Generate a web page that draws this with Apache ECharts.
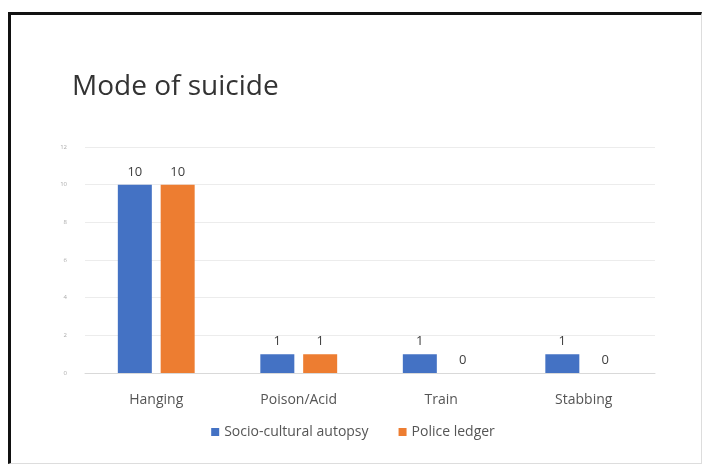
<!DOCTYPE html>
<html>
<head>
<meta charset="utf-8">
<script src="https://cdn.jsdelivr.net/npm/echarts@6/dist/echarts.min.js"></script>
<style>
  html, body { margin: 0; padding: 0; background: #fff; }
  #frame {
    position: absolute; left: 8px; top: 12px; width: 690px; height: 448px;
    border-top: 3px solid #111; border-left: 3px solid #111;
    border-right: 1px solid #ddd; border-bottom: 1px solid #ddd;
  }
  #chart { position: absolute; left: 0; top: 0; width: 706px; height: 468px; }
</style>
</head>
<body>
<div id="frame"></div>
<div id="chart"></div>
<script>
var myChart = echarts.init(document.getElementById('chart'));

var modes = ['Hanging', 'Poison/Acid', 'Train', 'Stabbing'];
var autopsy = [10, 1, 1, 1];
var ledger = [10, 1, 0, 0];

var labelStyle = {
    show: true,
    position: 'top',
    distance: 6,
    color: '#404040',
    fontSize: 13,
    fontFamily: 'Open Sans'
};

option = {
    backgroundColor: 'transparent',
    textStyle: { fontFamily: 'Open Sans' },
    title: {
        text: 'Mode of suicide',
        left: 67,
        top: 68,
        textStyle: {
            fontSize: 28,
            fontWeight: 'normal',
            color: '#333',
            fontFamily: 'Open Sans'
        }
    },
    grid: {
        left: 85,
        right: 51,
        top: 147,
        bottom: 95
    },
    legend: {
        bottom: 24,
        left: 'center',
        itemWidth: 8,
        itemHeight: 8,
        itemGap: 30,
        icon: 'rect',
        textStyle: { color: '#555', fontSize: 14 },
        data: ['Socio-cultural autopsy', 'Police ledger']
    },
    xAxis: {
        type: 'category',
        data: modes,
        axisTick: { show: false },
        axisLine: { lineStyle: { color: '#d9d9d9' } },
        axisLabel: { color: '#555', fontSize: 14, margin: 20 }
    },
    yAxis: {
        type: 'value',
        min: 0,
        max: 12,
        interval: 2,
        axisLine: { show: false },
        axisTick: { show: false },
        axisLabel: { color: '#aaa', fontSize: 6, margin: 18 },
        splitLine: { lineStyle: { color: '#ececec' } }
    },
    series: [
        {
            name: 'Socio-cultural autopsy',
            type: 'bar',
            data: autopsy,
            barWidth: 34,
            barGap: '26%',
            itemStyle: { color: '#4472C4' },
            label: labelStyle
        },
        {
            name: 'Police ledger',
            type: 'bar',
            data: ledger,
            barWidth: 34,
            itemStyle: { color: '#ED7D31' },
            label: labelStyle
        }
    ]
};
myChart.setOption(option);
</script>
</body>
</html>
